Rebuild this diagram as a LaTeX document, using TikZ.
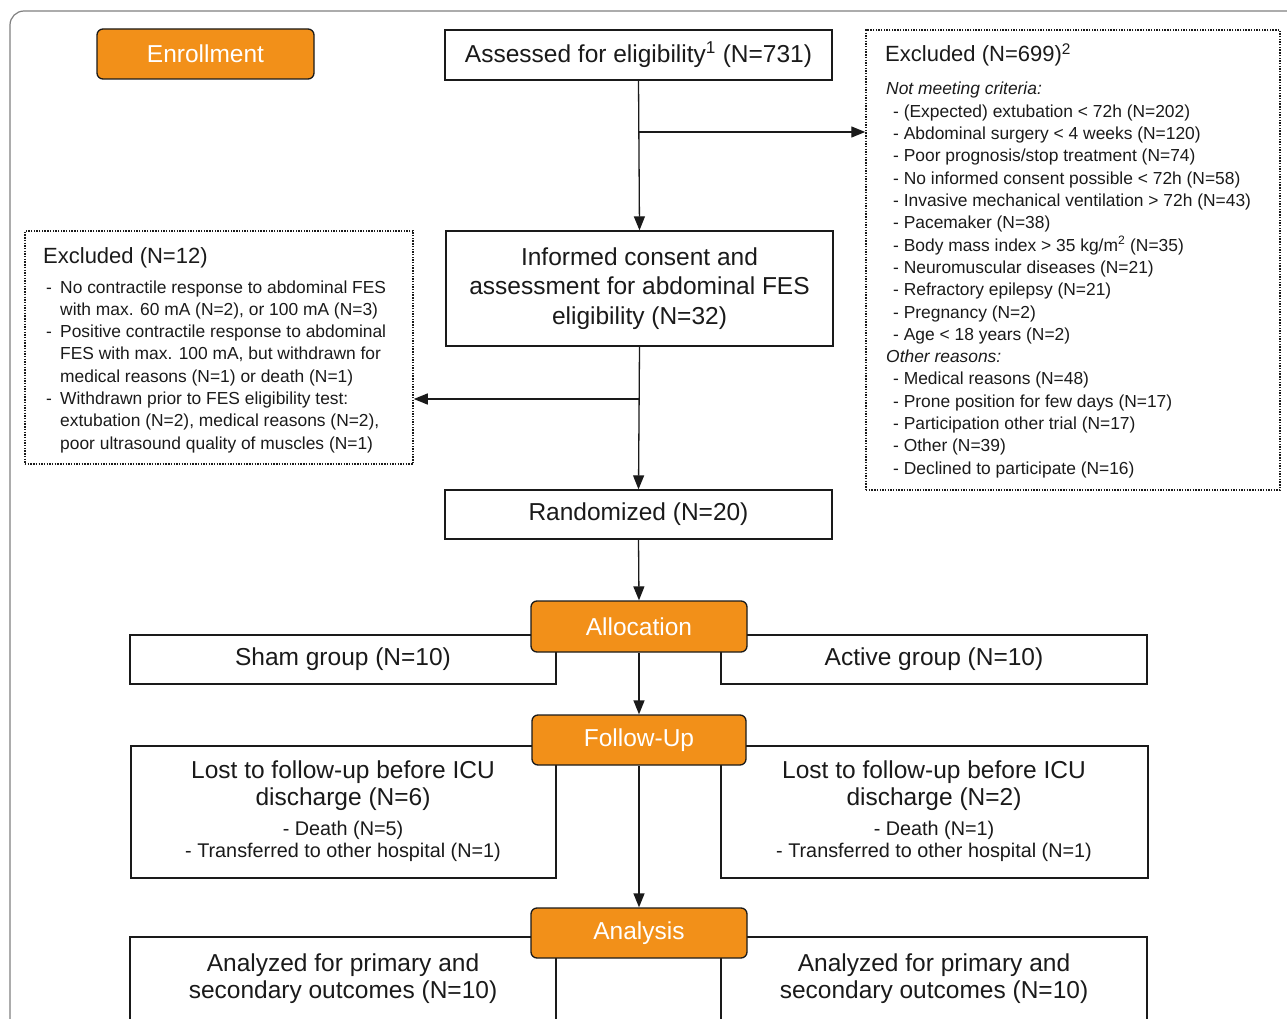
\documentclass[tikz,border=0pt]{standalone}
\usepackage{fontspec}
\setmainfont{Liberation Sans}
\usetikzlibrary{arrows.meta}
\definecolor{orng}{HTML}{F29019}
\definecolor{framegray}{HTML}{7F7F7F}
\definecolor{ink}{HTML}{1A1A1A}
\newcommand\fmain{\fontsize{24.5}{29.5}\selectfont}
\newcommand\fhead{\fontsize{22}{26}\selectfont}
\newcommand\fsmall{\fontsize{17.4}{22.3}\selectfont}
\newcommand\fsub{\fontsize{19.8}{22}\selectfont}
\begin{document}
\begin{tikzpicture}[x=1pt,y=-1pt,
  box/.style={draw=ink, line width=1.3pt, fill=white, inner sep=0pt, align=center, text=ink, font=\fmain},
  obox/.style={draw=ink, line width=1.3pt, fill=orng, rounded corners=6pt, text=white, font=\fmain, inner sep=0pt, minimum width=216pt, minimum height=50pt},
  dbox/.style={draw=ink, line width=1.5pt, dash pattern=on 1.4pt off 1.3pt, inner sep=0pt},
  arr/.style={draw=ink, line width=1.3pt, -{Triangle[length=14pt,width=11pt]}},
  stxt/.style={inner sep=0pt, text=ink, font=\fsmall},
  htxt/.style={inner sep=0pt, text=ink, font=\fhead},
  ctxt/.style={inner sep=0pt, text=ink, align=center},
]
\useasboundingbox (0,0) rectangle (1287,1019);
\clip (0,0) rectangle (1287,1019);

% outer frame
\draw[framegray, line width=1.2pt, rounded corners=14pt] (10,11) rectangle (1320,1060);

% top boxes
\node[box, minimum width=387pt, minimum height=50pt] (assess) at (638.5,55) {Assessed for eligibility\textsuperscript{1} (N=731)};
\node[box, minimum width=387pt, minimum height=115pt] (informed) at (639.5,288.5) {Informed consent and\\assessment for abdominal FES\\eligibility (N=32)};
\node[box, minimum width=387pt, minimum height=49pt] (rand) at (638.5,514.5) {Randomized (N=20)};

% exclusion boxes
\node[dbox, minimum width=414pt, minimum height=460pt] (exR) at (1073,260) {};
\node[dbox, minimum width=388pt, minimum height=233pt] (exL) at (219,347.5) {};

\node[htxt, anchor=base west] (exRh) at (885,62) {Excluded (N=699)\textsuperscript{2}};
\node[stxt, anchor=base west, font=\fsmall\itshape] (r0) at (886,95) {Not meeting criteria:};
\foreach \i/\t in {1/{(Expected) extubation < 72h (N=202)},
                   2/{Abdominal surgery < 4 weeks (N=120)},
                   3/{Poor prognosis/stop treatment (N=74)},
                   4/{No informed consent possible < 72h (N=58)},
                   5/{Invasive mechanical ventilation > 72h (N=43)},
                   6/{Pacemaker (N=38)},
                   7/{Body mass index > 35 kg/m\textsuperscript{2} (N=35)},
                   8/{Neuromuscular diseases (N=21)},
                   9/{Refractory epilepsy (N=21)},
                   10/{Pregnancy (N=2)},
                   11/{Age < 18 years (N=2)},
                   13/{Medical reasons (N=48)},
                   14/{Prone position for few days (N=17)},
                   15/{Participation other trial (N=17)},
                   16/{Other (N=39)},
                   17/{Declined to participate (N=16)}}
  \node[stxt, anchor=base west] (r\i) at (893,{95+22.3*\i}) {- \t};
\node[stxt, anchor=base west, font=\fsmall\itshape] (r12) at (886,{95+22.3*12}) {Other reasons:};

\node[htxt, anchor=base west] (exLh) at (43,263) {Excluded (N=12)};
\foreach \k/\t in {0/{No contractile response to abdominal FES},
                   1/{with max. 60 mA (N=2), or 100 mA (N=3)},
                   2/{Positive contractile response to abdominal},
                   3/{FES with max. 100 mA, but withdrawn for},
                   4/{medical reasons (N=1) or death (N=1)},
                   5/{Withdrawn prior to FES eligibility test:},
                   6/{extubation (N=2), medical reasons (N=2),},
                   7/{poor ultrasound quality of muscles (N=1)}}
  \node[stxt, anchor=base west] (l\k) at (60,{293+22.3*\k}) {\t};
\foreach \k in {0,2,5}
  \node[stxt, anchor=base west] (ld\k) at (46,{293+22.3*\k}) {-};

% group boxes
\node[box, minimum width=426pt, minimum height=49pt] (sham) at (343,659.5) {Sham group (N=10)};
\node[box, minimum width=426pt, minimum height=49pt] (active) at (934,659.5) {Active group (N=10)};
\node[box, minimum width=425pt, minimum height=132pt] (lostL) at (343.5,812) {};
\node[box, minimum width=427pt, minimum height=132pt] (lostR) at (934.5,812) {};
\node[ctxt, font=\fontsize{24.5}{27}\selectfont] (lostLt) at (343,786) {Lost to follow-up before ICU\\discharge (N=6)};
\node[ctxt, font=\fsub] (lostLs) at (343,841.5) {- Death (N=5)\\- Transferred to other hospital (N=1)};
\node[ctxt, font=\fontsize{24.5}{27}\selectfont] (lostRt) at (934,786) {Lost to follow-up before ICU\\discharge (N=2)};
\node[ctxt, font=\fsub] (lostRs) at (934,841.5) {- Death (N=1)\\- Transferred to other hospital (N=1)};
\node[box, minimum width=426pt, minimum height=110pt] (anL) at (343,992) {};
\node[box, minimum width=426pt, minimum height=110pt] (anR) at (934,992) {};
\node[ctxt, font=\fontsize{24.5}{27}\selectfont] (anLt) at (343,979) {Analyzed for primary and\\secondary outcomes (N=10)};
\node[ctxt, font=\fontsize{24.5}{27}\selectfont] (anRt) at (934,979) {Analyzed for primary and\\secondary outcomes (N=10)};

% orange stage labels
\node[obox, minimum width=217pt] (enroll) at (205.5,54) {Enrollment};
\node[obox, minimum height=51pt] (alloc) at (639,626.5) {Allocation};
\node[obox, minimum width=214pt] (follow) at (639,740) {Follow-Up};
\node[obox] (analysis) at (639,933) {Analysis};

% connectors
\coordinate (b1) at (639,132);
\coordinate (b2) at (639,399);
\draw[arr] (assess.south) -- (informed.north);
\draw[arr] (b1) -- (b1 -| exR.west);
\draw[arr] (informed.south) -- (rand.north);
\draw[arr] (b2) -- (b2 -| exL.east);
\draw[arr] (rand.south) -- (alloc.north);
\draw[arr] (alloc.south) -- (follow.north);
\draw[arr] (follow.south) -- (analysis.north);
\end{tikzpicture}
\end{document}
